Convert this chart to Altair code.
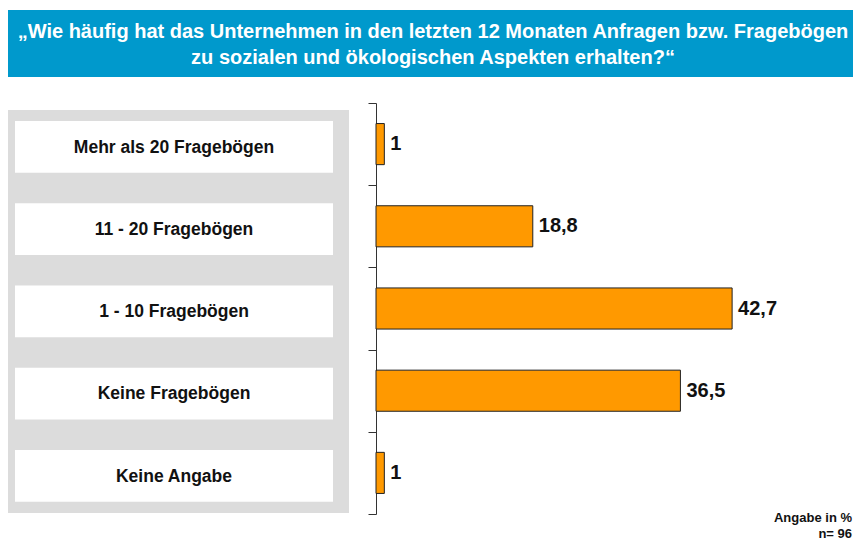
import altair as alt
import pandas as pd

# ---- data ----
categories = [
    "Mehr als 20 Fragebögen",
    "11 - 20 Fragebögen",
    "1 - 10 Fragebögen",
    "Keine Fragebögen",
    "Keine Angabe",
]
values = [1, 18.8, 42.7, 36.5, 1]
title_lines = [
    "„Wie häufig hat das Unternehmen in den letzten 12 Monaten Anfragen bzw. Fragebögen",
    "zu sozialen und ökologischen Aspekten erhalten?“",
]
footer_lines = ["Angabe in %", "n= 96"]


def fmt(v):
    return str(int(v)) if float(v).is_integer() else f"{v}".replace(".", ",")


df = pd.DataFrame({"label": categories, "value": values})
df["pos"] = range(len(df))
df["b0"] = df["pos"] + 0.25
df["b1"] = df["pos"] + 0.75
df["mid"] = df["pos"] + 0.5
df["k0"] = df["pos"] + 0.22
df["k1"] = df["pos"] + 0.85
df["kmid"] = df["pos"] + 0.545
df["txt"] = [fmt(v) for v in values]

FONT = "Liberation Sans, Arial, sans-serif"

W, H = 845, 532

yscale = alt.Scale(domain=[0, 5], range=[95, 506], nice=False, zero=False)
xscale = alt.Scale(domain=[0, 50], range=[368, 785], nice=False)
yaxis = alt.Axis(
    values=[0, 1, 2, 3, 4, 5], labels=False, ticks=True, tickSize=8,
    tickColor="#333333", domainColor="#333333", tickWidth=1, domainWidth=1,
    grid=False, title=None, offset=-368, orient="left",
)


def Y(field):
    return alt.Y(f"{field}:Q", scale=yscale, axis=yaxis, title=None)


one = pd.DataFrame({"a": [0]})

banner = alt.Chart(one).mark_rect(color="#0099CC").encode(
    x=alt.value(0), x2=alt.value(W), y=alt.value(2), y2=alt.value(69)
)
t1 = alt.Chart(one).mark_text(
    text=title_lines[0], font=FONT, fontSize=20, fontWeight="bold",
    color="white", align="center", baseline="middle",
).encode(x=alt.value(425), y=alt.value(24))
t2 = alt.Chart(one).mark_text(
    text=title_lines[1], font=FONT, fontSize=20, fontWeight="bold",
    color="white", align="center", baseline="middle",
).encode(x=alt.value(425), y=alt.value(50))

panel = alt.Chart(one).mark_rect(color="#DCDCDC").encode(
    x=alt.value(0), x2=alt.value(341), y=alt.value(102), y2=alt.value(505)
)

boxes = alt.Chart(df).mark_rect(color="white").encode(
    x=alt.value(7), x2=alt.value(325), y=Y("k0"), y2="k1:Q"
)
box_text = alt.Chart(df).mark_text(
    font=FONT, fontSize=17.5, fontWeight="bold", color="#111111",
    align="center", baseline="middle",
).encode(x=alt.value(166), y=Y("kmid"), text="label:N")

bars = alt.Chart(df).mark_rect(
    color="#FF9900", stroke="#222222", strokeWidth=1
).encode(
    x=alt.X("value:Q", scale=xscale, axis=None),
    x2=alt.datum(0),
    y=Y("b0"),
    y2="b1:Q",
)
val_text = alt.Chart(df).mark_text(
    font=FONT, fontSize=20, fontWeight="bold", color="#111111",
    align="left", baseline="middle", dx=6,
).encode(
    x=alt.X("value:Q", scale=xscale, axis=None),
    y=Y("mid"),
    text="txt:N",
)

f1 = alt.Chart(one).mark_text(
    text=footer_lines[0], font=FONT, fontSize=13, fontWeight="bold",
    color="#111111", align="right", baseline="middle",
).encode(x=alt.value(W - 1), y=alt.value(510))
f2 = alt.Chart(one).mark_text(
    text=footer_lines[1], font=FONT, fontSize=13, fontWeight="bold",
    color="#111111", align="right", baseline="middle",
).encode(x=alt.value(W - 1), y=alt.value(526))

chart = alt.layer(
    banner, t1, t2, panel, boxes, box_text, bars, val_text, f1, f2
).properties(
    width=W, height=H, padding=0,
    autosize=alt.AutoSizeParams(type="none"),
    background="white",
).configure_view(strokeWidth=0)

chart.save("out.html", embed_options={"renderer": "svg", "actions": False})
